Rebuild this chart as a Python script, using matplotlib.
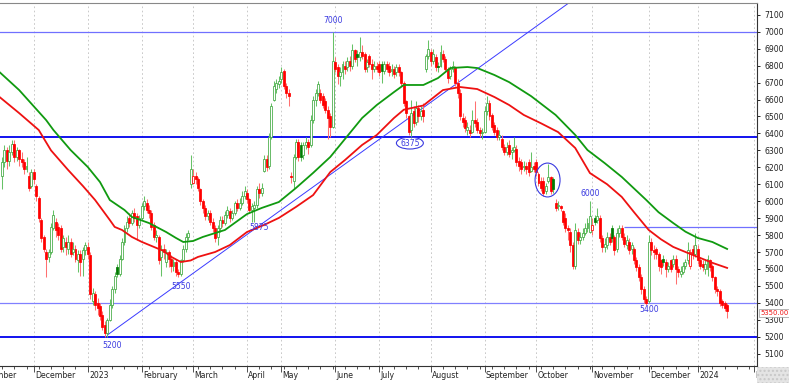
import matplotlib
matplotlib.use("Agg")
import matplotlib.pyplot as plt
from matplotlib.patches import Ellipse, Rectangle
from matplotlib.ticker import FixedLocator
import numpy as np

# ---------------- data (daily candles) ----------------
opens = [6150,6230,6300,6240,6290,6340,6260,6300,6250,6230,6190,6150,6090,6170,6090,6020,5890,5790,5700,5670,
         5700,5840,5880,5850,5840,5730,5760,5720,5760,5700,5720,5650,5690,5660,5710,5730,5680,5410,5450,5400,
         5380,5330,5270,5220,5300,5390,5480,5610,5570,5660,5760,5840,5900,5870,5930,5910,5860,5900,5970,5990,
         5950,5930,5860,5790,5790,5670,5720,5640,5700,5660,5620,5640,5580,5570,5650,5720,5790,6100,6110,6150,
         6130,6070,6000,5960,5910,5930,5880,5840,5790,5840,5890,5870,5920,5940,5900,5930,5990,5960,5990,6030,
         6050,6010,5950,5960,5980,6070,6050,6180,6250,6210,6380,6600,6660,6690,6720,6770,6680,6640,6150,6120,
         6260,6350,6330,6270,6330,6350,6330,6480,6600,6640,6640,6620,6590,6540,6500,6440,6820,6790,6740,6760,
         6800,6790,6830,6800,6890,6870,6850,6880,6870,6790,6860,6810,6780,6800,6810,6810,6770,6810,6800,6770,
         6780,6760,6790,6760,6700,6590,6500,6420,6530,6470,6550,6500,6540,6780,6860,6880,6830,6850,6800,6800,
         6870,6840,6780,6740,6780,6790,6700,6640,6490,6480,6420,6420,6410,6480,6470,6420,6400,6410,6530,6580,
         6510,6450,6420,6380,6370,6320,6290,6330,6290,6300,6310,6240,6230,6200,6210,6230,6180,6210,6230,6160,
         6120,6120,6060,6120,6140,6130,5990,5970,5970,5940,5900,5840,5820,5740,5620,5820,5770,5790,5810,5840,
         5820,5830,5900,5890,5900,5780,5730,5740,5790,5840,5790,5720,5810,5840,5790,5740,5760,5720,5720,5650,
         5610,5550,5480,5420,5410,5760,5710,5720,5690,5650,5660,5640,5600,5650,5630,5660,5600,5570,5580,5620,
         5650,5620,5720,5690,5720,5650,5630,5600,5600,5650,5620,5550,5480,5470,5410,5400,5390]
highs = [6260,6330,6320,6330,6360,6360,6320,6310,6290,6250,6260,6170,6190,6190,6100,6030,5900,5800,5720,5720,
         5870,5950,5900,5870,5860,5800,5790,5800,5780,5760,5740,5710,5710,5730,5760,5760,5700,5490,5470,5430,
         5400,5350,5290,5310,5420,5500,5580,5630,5680,5780,5860,5910,5930,5950,5960,5930,5920,5990,6030,6010,
         5980,5950,5880,5830,5800,5740,5750,5720,5710,5680,5660,5660,5600,5660,5740,5810,5830,6270,6190,6170,
         6140,6080,6010,5980,5950,5950,5900,5860,5860,5910,5910,5940,5970,5960,5950,6000,6010,6020,6060,6090,
         6070,6020,5990,6000,6090,6110,6110,6270,6270,6400,6580,6710,6720,6740,6790,6780,6700,6660,6170,6280,
         6370,6370,6350,6350,6380,6370,6510,6620,6660,6710,6660,6640,6610,6560,6520,7000,6850,6810,6790,6830,
         6830,6850,6860,6930,6900,6890,6970,6920,6880,6840,6870,6840,6830,6820,6830,6830,6830,6830,6820,6810,
         6800,6810,6810,6770,6710,6600,6510,6600,6560,6590,6570,6560,6580,6870,6950,6900,6900,6870,6820,6920,
         6890,6860,6790,6800,6830,6800,6720,6660,6520,6500,6470,6450,6540,6590,6490,6440,6430,6560,6620,6600,
         6520,6470,6440,6420,6390,6340,6350,6360,6320,6380,6330,6260,6250,6240,6230,6250,6290,6230,6250,6170,
         6140,6140,6110,6220,6150,6140,6010,6000,5980,5950,5930,5860,5840,5760,5870,5840,5820,5840,5870,5900,
         6000,5900,5920,5960,5920,5800,5780,5820,5810,5860,5800,5840,5860,5860,5810,5800,5780,5760,5730,5670,
         5630,5570,5500,5440,5800,5780,5740,5730,5700,5660,5680,5660,5640,5660,5680,5680,5620,5620,5640,5660,
         5760,5720,5740,5810,5740,5670,5650,5660,5680,5660,5630,5560,5500,5480,5420,5410,5400]
lows = [6070,6200,6190,6210,6270,6230,6240,6210,6200,6160,6170,6060,6080,6100,6000,5880,5760,5700,5550,5640,
        5690,5830,5790,5770,5700,5700,5680,5690,5670,5680,5640,5580,5560,5560,5680,5660,5420,5390,5360,5330,
        5300,5240,5200,5200,5290,5370,5460,5550,5560,5650,5740,5820,5850,5860,5880,5770,5840,5890,5950,5930,
        5900,5830,5770,5760,5630,5560,5660,5610,5610,5580,5590,5560,5550,5560,5640,5700,5770,6080,6100,6100,
        6060,5980,5930,5890,5890,5860,5820,5760,5740,5820,5850,5860,5900,5880,5890,5920,5940,5950,5980,6010,
        5990,5930,5880,5880,5960,6020,6030,6170,6180,6190,6370,6590,6640,6670,6700,6660,6610,6560,6110,6080,
        6250,6240,6240,6250,6310,6280,6320,6460,6560,6620,6580,6550,6520,6370,6380,6430,6760,6690,6680,6720,
        6750,6770,6770,6780,6820,6800,6830,6840,6760,6760,6790,6720,6760,6760,6740,6700,6750,6760,6740,6740,
        6730,6740,6740,6680,6560,6490,6390,6375,6440,6450,6470,6480,6470,6760,6840,6800,6810,6770,6760,6790,
        6820,6760,6700,6720,6760,6680,6610,6480,6440,6410,6390,6380,6400,6440,6400,6380,6370,6400,6510,6480,
        6420,6390,6360,6360,6300,6270,6270,6260,6250,6290,6210,6180,6160,6180,6160,6150,6170,6170,6150,6090,
        6060,6030,6040,6110,6040,6050,5940,5950,5940,5860,5820,5770,5700,5600,5600,5750,5750,5770,5800,5820,
        5810,5800,5860,5870,5760,5700,5700,5720,5740,5760,5680,5700,5790,5770,5730,5720,5690,5690,5630,5590,
        5530,5450,5400,5390,5400,5680,5660,5660,5590,5570,5620,5550,5580,5580,5610,5510,5550,5550,5570,5600,
        5630,5600,5660,5670,5630,5600,5590,5570,5560,5590,5530,5460,5440,5380,5370,5350,5310]
closes = [6230,6300,6240,6290,6340,6260,6300,6250,6230,6190,6210,6080,6170,6130,6030,5900,5780,5720,5660,5700,
          5850,5920,5830,5800,5720,5780,5730,5760,5690,5720,5660,5690,5640,5710,5740,5690,5450,5460,5390,5370,
          5320,5260,5220,5300,5390,5480,5560,5570,5660,5760,5840,5880,5870,5930,5900,5860,5900,5970,6000,5950,
          5930,5850,5790,5800,5650,5720,5700,5700,5660,5620,5640,5580,5570,5650,5720,5790,5810,6190,6150,6130,
          6080,6000,5960,5910,5930,5880,5840,5780,5840,5890,5870,5920,5950,5900,5930,5990,5960,5990,6030,6060,
          6010,5950,5970,5980,6070,6050,6080,6250,6200,6380,6560,6680,6700,6710,6760,6680,6640,6620,6140,6260,
          6350,6260,6260,6330,6350,6320,6480,6600,6640,6690,6600,6570,6540,6490,6440,6830,6780,6740,6760,6810,
          6780,6830,6800,6890,6840,6850,6880,6860,6780,6820,6810,6780,6800,6780,6760,6770,6810,6780,6760,6780,
          6750,6790,6760,6700,6580,6520,6410,6520,6460,6550,6500,6530,6500,6860,6900,6830,6870,6790,6790,6880,
          6840,6780,6730,6780,6800,6700,6640,6500,6470,6430,6440,6400,6480,6460,6420,6400,6410,6530,6580,6500,
          6440,6410,6380,6390,6320,6290,6320,6280,6300,6320,6230,6210,6190,6210,6190,6170,6200,6190,6170,6110,
          6080,6050,6090,6140,6060,6070,5960,5980,5960,5880,5840,5830,5740,5620,5830,5770,5790,5810,5840,5870,
          5910,5860,5880,5910,5780,5730,5750,5790,5760,5780,5710,5810,5840,5790,5750,5770,5710,5740,5650,5610,
          5550,5480,5420,5400,5760,5710,5700,5690,5620,5610,5640,5600,5620,5600,5660,5600,5580,5590,5620,5640,
          5710,5700,5690,5740,5650,5620,5610,5630,5660,5610,5550,5480,5470,5400,5390,5370,5350]

# moving averages, sampled along the drawn lines (candle index, value)
ma_fast_idx = [-1, 7, 15, 20, 27, 33, 38, 41, 44, 46, 49, 53, 57, 62, 66, 69, 73, 77, 80, 87, 93, 100, 107,
               113, 120, 127, 134, 140, 147, 153, 160, 164, 172, 180, 187, 194, 201, 207, 213, 220, 227, 234,
               240, 247, 253, 258, 264, 269, 274, 279, 284, 290, 296]
ma_fast_val = [6615, 6520, 6420, 6300, 6184, 6090, 6007, 5948, 5889, 5848, 5830, 5789, 5760, 5730, 5706,
               5672, 5641, 5650, 5671, 5700, 5741, 5818, 5860, 5901, 5966, 6036, 6172, 6243, 6332, 6391,
               6491, 6540, 6565, 6656, 6674, 6662, 6615, 6568, 6509, 6460, 6408, 6314, 6166, 6100, 6025,
               5935, 5830, 5775, 5730, 5700, 5671, 5636, 5606]
ma_slow_idx = [-1, 7, 18, 21, 28, 35, 40, 44, 50, 53, 60, 67, 71, 74, 78, 82, 91, 100, 106, 113, 120, 127,
               134, 147, 153, 160, 164, 172, 178, 183, 190, 194, 201, 207, 216, 226, 234, 239, 246, 253, 263,
               268, 274, 279, 284, 290, 296]
ma_slow_val = [6762, 6656, 6479, 6420, 6302, 6202, 6113, 6007, 5948, 5907, 5871, 5818, 5783, 5759, 5765,
               5789, 5830, 5924, 5960, 5995, 6078, 6167, 6261, 6491, 6568, 6644, 6686, 6686, 6727, 6786,
               6792, 6786, 6745, 6703, 6620, 6509, 6391, 6302, 6225, 6143, 6007, 5935, 5871, 5820, 5783,
               5759, 5718]

month_labels = ["November", "December", "2023", "February", "March", "April", "May", "June", "July",
                "August", "September", "October", "November", "December", "2024", "F"]
month_idx = [-11, 13, 35, 57, 78, 100, 114, 136, 154, 175, 197, 218, 241, 264, 284, 307]

yticks = list(range(5100, 7200, 100))

levels = [7000, 6380, 5400, 5200]
resist_level = 5850
resist_start = 254
trend_idx = [43, 240]
trend_val = [5210, 7260]

annot_labels = ["7000", "6375", "5875", "5550", "5200", "6000", "5400"]
annot_idx = [135, 166.5, 105, 73, 45, 240, 264]
annot_val = [7069, 6343, 5842, 5494, 5146, 6048, 5358]

# ---------------- drawing ----------------
plt.rcParams['font.family'] = ['DejaVu Sans']
fig = plt.figure(figsize=(7.89, 3.83), dpi=100)
ax = fig.add_axes([0, 17 / 383, 757 / 789, 363 / 383])

o = np.array(opens, float); h = np.array(highs, float)
l = np.array(lows, float); c = np.array(closes, float)
x = np.arange(len(c))
prev = np.concatenate([[o[0]], c[:-1]])
up = c >= prev
filled = c < o

wick_col = np.where(up, '#66c266', '#ff7070')
ax.vlines(x, l, h, colors=wick_col, lw=0.75, zorder=3)
edge = np.where(up, np.where(filled, '#007a00', '#3fa83f'), '#ff0000')
face = [(e if f else 'white') for e, f in zip(edge, filled)]
body_b = np.minimum(o, c)
body_h = np.maximum(np.abs(c - o), 4)
ax.bar(x, body_h, bottom=body_b, width=0.8, color=face, edgecolor=edge, linewidth=0.55, zorder=4)

ax.plot(ma_slow_idx, ma_slow_val, color='#109a10', lw=1.3, zorder=5, solid_joinstyle='round')
ax.plot(ma_fast_idx, ma_fast_val, color='#ee1111', lw=1.3, zorder=5, solid_joinstyle='round')

# horizontal levels
lvl_style = {7000: ('#7070ff', 0.9), 6380: ('#0000ee', 1.3), 5400: ('#8080ff', 0.9), 5200: ('#0000ee', 1.3)}
for lv in levels:
    col, lw = lvl_style[lv]
    ax.axhline(lv, color=col, lw=lw, zorder=2)
ax.hlines(resist_level, resist_start, 320, color='#7070ff', lw=0.9, zorder=2)

# trendline
ax.plot(trend_idx, trend_val, color='#3a3aff', lw=0.7, zorder=2)

# month grid & labels
for m, lab in zip(month_idx, month_labels):
    if m > 0:
        ax.axvline(m, color='#c0c0c0', lw=0.6, ls=(0, (2, 3)), zorder=1)
    ax.text(m + 0.5, -0.025, lab, transform=ax.get_xaxis_transform(), ha='left', va='center',
            fontsize=5.6, color='#222222', clip_on=False)

# annotations
for lab, xi, yv in zip(annot_labels, annot_idx, annot_val):
    ax.text(xi, yv, lab, ha='center', va='center', fontsize=5.6, color='#3a3ae0', zorder=6)
ax.add_patch(Ellipse((166.5, 6343), 11.0, 70, fill=False, ec='#3a3ae0', lw=0.8, zorder=6))
ax.add_patch(Ellipse((222.7, 6125), 10.2, 200, fill=False, ec='#3a3ae0', lw=0.8, zorder=6))

# axes setup
ax.set_xlim(-0.82, 308.2)
ax.set_ylim(5027, 7170)
ax.set_xticks([m for m in month_idx if m > 0])
ax.xaxis.set_minor_locator(FixedLocator(np.arange(-10, 308, 5)))
ax.tick_params(axis='x', which='major', length=4, width=0.6, labelbottom=False, color='#333333')
ax.tick_params(axis='x', which='minor', length=2.5, width=0.6, color='#333333')
ax.yaxis.tick_right()
ax.set_yticks(yticks)
ax.tick_params(axis='y', length=2.5, width=0.6, pad=3, labelsize=5.6, labelcolor='#222222')
ax.spines['left'].set_visible(False)
ax.spines['top'].set_color('#888888')
ax.spines['right'].set_color('#333333')
ax.spines['bottom'].set_color('#333333')
for s in ax.spines.values():
    s.set_linewidth(0.8)

# last price tag
ax.text(1.004, c[-1] - 10, f"{c[-1]:.2f}", transform=ax.get_yaxis_transform(), ha='left', va='center',
        fontsize=4.9, color='#ee1111', clip_on=False,
        bbox=dict(boxstyle='square,pad=0.15', fc='white', ec='#999999', lw=0.5))

fig.patches.append(Rectangle((757 / 789, 0), 32 / 789, 16 / 383, transform=fig.transFigure,
                             facecolor='#e4e4e4', edgecolor='#c8c8c8', hatch='....', lw=0))

fig.savefig('out.png', dpi=100)
